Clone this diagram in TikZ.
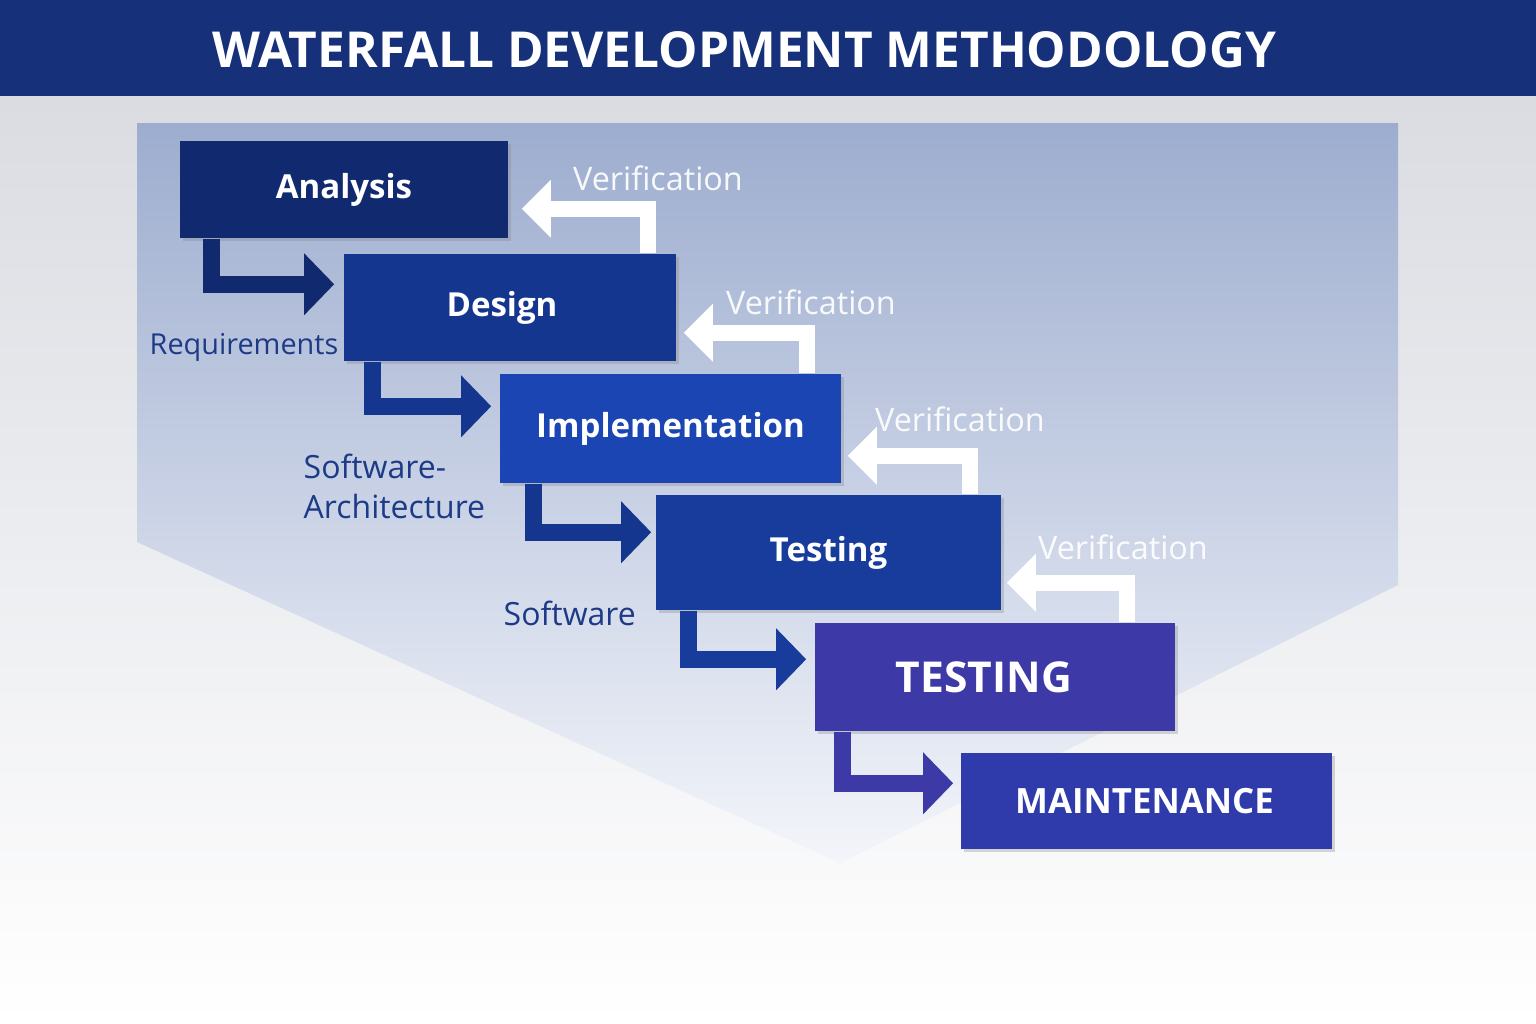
\documentclass[tikz,border=0pt]{standalone}
\usepackage{fontspec}
\setmainfont{Open Sans}
\usetikzlibrary{arrows.meta,shadows}
\definecolor{head}{HTML}{16317A}
\definecolor{bgtop}{HTML}{DADCE2}
\definecolor{pentop}{HTML}{9DADCF}
\definecolor{penmid}{HTML}{C4D1EB}
\definecolor{penbot}{HTML}{F3F5FA}
\definecolor{cA}{HTML}{10296F}
\definecolor{cD}{HTML}{15368F}
\definecolor{cI}{HTML}{1B45B2}
\definecolor{cT}{HTML}{173C9B}
\definecolor{cU}{HTML}{3D3AA7}
\definecolor{cM}{HTML}{2F3AAB}
\definecolor{lab}{HTML}{1D3A87}
\begin{document}
\begin{tikzpicture}[x=0.01cm,y=-0.01cm,
  box/.style={fill=#1, text=white, inner sep=0pt,
    font=\bfseries\fontsize{9.4}{11}\selectfont,
    drop shadow={shadow xshift=0.8pt, shadow yshift=-0.8pt, opacity=0.3}},
  flow/.style={draw=#1, line width=0.17cm, -{Triangle[length=0.3cm,width=0.6cm]}},
  back/.style={draw=white, line width=0.16cm, -{Triangle[length=0.29cm,width=0.56cm]}},
  verif/.style={text=white, text opacity=0.92, font=\fontsize{9.2}{11}\selectfont},
  note/.style={text=lab, inner sep=0pt, font=\fontsize{9.1}{11.4}\selectfont}]
\useasboundingbox (0,0) rectangle (1536,1024);
\shade[top color=bgtop, bottom color=white] (0,96) rectangle (1536,1024);
\shade[top color=pentop, middle color=penmid, bottom color=penbot]
  (137,123) -- (1398,123) -- (1398,585) -- (840,863) -- (137,542) -- cycle;
\fill[head] (0,0) rectangle (1536,96);
\node[text=white, font=\bfseries\fontsize{14.1}{17}\selectfont] (title) at (744,50) {WATERFALL DEVELOPMENT METHODOLOGY};

\node[box=cA, minimum width=3.28cm, minimum height=0.97cm] (1) at (344,189.5) {Analysis};
\node[box=cD, minimum width=3.32cm, minimum height=1.07cm] (2) at (510,307.5) {Design\hspace*{0.16cm}};
\node[box=cI, minimum width=3.41cm, minimum height=1.09cm] (3) at (670.5,428.5) {Implementation};
\node[box=cT, minimum width=3.45cm, minimum height=1.15cm] (4) at (828.5,552.5) {Testing};
\node[box=cU, minimum width=3.60cm, minimum height=1.08cm, font=\bfseries\fontsize{12.1}{14}\selectfont] (5) at (995,677) {TESTING\hspace*{0.22cm}};
\node[box=cM, minimum width=3.71cm, minimum height=0.96cm, font=\bfseries\fontsize{9.9}{12}\selectfont] (6) at (1146.5,801) {MAINTENANCE\hspace*{0.04cm}};

\node[verif] (v1) at (658,178) {Verification};
\node[verif] (v2) at (811,302) {Verification};
\node[verif] (v3) at (960,419) {Verification};
\node[verif] (v4) at (1123,547) {Verification};

\node[note, anchor=base west, font=\fontsize{8.2}{10}\selectfont] (req) at (149,354) {Requirements};
\node[note, anchor=west, align=left] (arch) at (303,486) {Software-\\Architecture};
\node[note, anchor=base west] (soft) at (503,625) {Software};

\draw[flow=cA] ([shift={(32,0)}]1.south west) |- ([shift={(-9,31)}]2.north west);
\draw[flow=cD] ([shift={(29.5,0)}]2.south west) |- ([shift={(-8,33)}]3.north west);
\draw[flow=cD] ([shift={(34.5,0)}]3.south west) |- ([shift={(-4,38)}]4.north west);
\draw[flow=cT] ([shift={(33,0)}]4.south west) |- ([shift={(-8,37)}]5.north west);
\draw[flow=cU] ([shift={(28.5,0)}]5.south west) |- ([shift={(-7,31)}]6.north west);

\draw[back] ([shift={(-29,0)}]2.north east) |- ([shift={(13,-30)}]1.south east);
\draw[back] ([shift={(-34.5,0)}]3.north east) |- ([shift={(7,-29)}]2.south east);
\draw[back] ([shift={(-31.5,0)}]4.north east) |- ([shift={(6,-28)}]3.south east);
\draw[back] ([shift={(-48.5,0)}]5.north east) |- ([shift={(5,-28)}]4.south east);
\end{tikzpicture}
\end{document}
